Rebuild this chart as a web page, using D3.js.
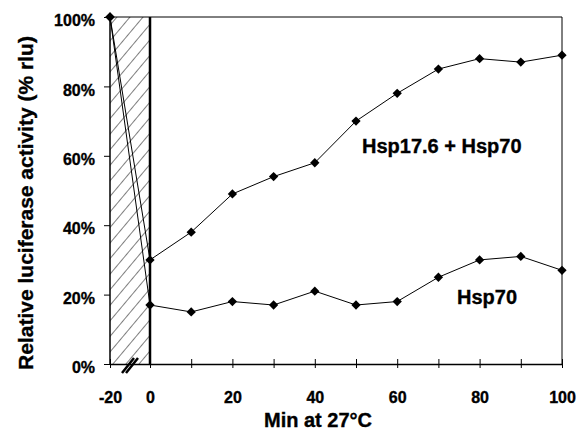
<!DOCTYPE html>
<html>
<head>
<meta charset="utf-8">
<script src="https://cdn.jsdelivr.net/npm/d3@7"></script>
<style>
  body { margin: 0; background: #fff; }
  text { font-family: "Liberation Sans", Arial, sans-serif; font-weight: bold; fill: #000; stroke: #000; stroke-width: 0.35px; }
</style>
</head>
<body>
<script>
// minutes at 27C (-20 = end of heat shock, axis is broken between -20 and 0)
var minutes = [-20, 0, 10, 20, 30, 40, 50, 60, 70, 80, 90, 100];
var hsp176_hsp70 = [100, 30, 38, 49, 54, 58, 70, 78, 85, 88, 87, 89];
var hsp70 = [100, 17, 15, 18, 17, 21, 17, 18, 25, 30, 31, 27];
var xTicks = [-20, 0, 10, 20, 30, 40, 50, 60, 70, 80, 90, 100];
var xTickLabels = [-20, 0, 20, 40, 60, 80, 100];
var yTicks = [0, 20, 40, 60, 80, 100];

var width = 586, height = 432;

var svg = d3.select("body").append("svg")
    .attr("width", width)
    .attr("height", height);

// broken x axis: -20..0 squeezed into a narrow band
var x = d3.scaleLinear().domain([-20, 0, 100]).range([110, 150, 562]);
var y = d3.scaleLinear().domain([0, 100]).range([364, 17]);

// hatch pattern for the heat shock period
var defs = svg.append("defs");
defs.append("pattern")
    .attr("id", "hatch")
    .attr("patternUnits", "userSpaceOnUse")
    .attr("width", 10).attr("height", 10)
    .attr("patternTransform", "rotate(-50)")
    .append("line")
    .attr("x1", 0).attr("y1", 0).attr("x2", 10).attr("y2", 0)
    .attr("stroke", "#000").attr("stroke-width", 1);

svg.append("rect")
    .attr("x", x(-20)).attr("y", y(100))
    .attr("width", x(0) - x(-20)).attr("height", y(0) - y(100))
    .attr("fill", "url(#hatch)");

// frame: top and right borders
svg.append("line")
    .attr("x1", x(-20)).attr("y1", y(100)).attr("x2", x(100)).attr("y2", y(100))
    .attr("stroke", "#000").attr("stroke-width", 1);
svg.append("line")
    .attr("x1", x(100)).attr("y1", y(100)).attr("x2", x(100)).attr("y2", y(0))
    .attr("stroke", "#000").attr("stroke-width", 1);
// left edge of the hatched box and the heavy line at 0
svg.append("line")
    .attr("x1", x(-20)).attr("y1", y(100)).attr("x2", x(-20)).attr("y2", y(0))
    .attr("stroke", "#000").attr("stroke-width", 1.5);
svg.append("line")
    .attr("x1", x(0)).attr("y1", y(100)).attr("x2", x(0)).attr("y2", y(0))
    .attr("stroke", "#000").attr("stroke-width", 2.5);

// x axis
var xAxis = svg.append("g")
    .attr("transform", "translate(0," + y(0) + ")")
    .call(d3.axisBottom(x).tickValues(xTicks).tickSizeOuter(0)
        .tickFormat(function(d) { return xTickLabels.indexOf(d) >= 0 ? d : ""; }));
xAxis.select(".domain").attr("stroke-width", 1.3);
xAxis.selectAll(".tick line").attr("y1", -5).attr("y2", 4).attr("stroke-width", 1);
xAxis.selectAll(".tick text")
    .attr("y", 39).attr("dy", 0)
    .style("font-size", "16px")
    .style("font-family", "'Liberation Sans', Arial, sans-serif")
    .style("font-weight", "bold");

// y axis
var yAxis = svg.append("g")
    .attr("transform", "translate(" + x(-20) + ",0)")
    .call(d3.axisLeft(y).tickValues(yTicks).tickSize(6).tickSizeOuter(0)
        .tickFormat(function(d) { return d + "%"; }));
yAxis.select(".domain").remove();
yAxis.selectAll(".tick text")
    .attr("x", -15).attr("dy", "0.54em")
    .style("font-size", "16px")
    .style("font-family", "'Liberation Sans', Arial, sans-serif")
    .style("font-weight", "bold");

// axis break marks
[0, 4].forEach(function(o) {
    svg.append("line")
        .attr("x1", x(-12) + o - 4).attr("y1", y(0) + 9)
        .attr("x2", x(-12) + o + 8).attr("y2", y(0) - 6)
        .attr("stroke", "#000").attr("stroke-width", 2.5);
});

// series
var line = d3.line()
    .x(function(d) { return x(d[0]); })
    .y(function(d) { return y(d[1]); });

[hsp176_hsp70, hsp70].forEach(function(series) {
    var pts = minutes.map(function(m, i) { return [m, series[i]]; });
    svg.append("path")
        .datum(pts)
        .attr("d", line)
        .attr("fill", "none")
        .attr("stroke", "#000")
        .attr("stroke-width", 1);
    svg.append("g").selectAll("path")
        .data(pts)
        .enter().append("path")
        .attr("d", d3.symbol().type(d3.symbolDiamond2).size(55))
        .attr("transform", function(d) { return "translate(" + x(d[0]) + "," + y(d[1]) + ")"; })
        .attr("fill", "#000");
});

// series labels
svg.append("text").attr("x", 362).attr("y", 153)
    .style("font-size", "20px").text("Hsp17.6 + Hsp70");
svg.append("text").attr("x", 457).attr("y", 304)
    .style("font-size", "20px").text("Hsp70");

// axis titles
svg.append("text").attr("x", 318).attr("y", 427)
    .attr("text-anchor", "middle")
    .style("font-size", "20px").text("Min at 27°C");
svg.append("text")
    .attr("transform", "translate(33,203) rotate(-90)")
    .attr("text-anchor", "middle")
    .style("font-size", "21px").text("Relative luciferase activity (% rlu)");
</script>
</body>
</html>
